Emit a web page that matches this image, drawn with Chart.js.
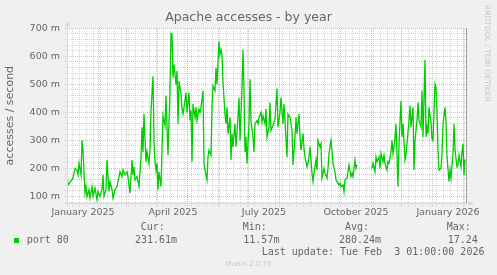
<!DOCTYPE html>
<html>
<head>
<meta charset="utf-8">
<script src="https://cdn.jsdelivr.net/npm/chart.js@4.4.1/dist/chart.umd.min.js"></script>
<style>
  html, body { margin: 0; padding: 0; background: #f0f0f0; }
  #wrap { position: relative; width: 497px; height: 275px; overflow: hidden; }
  #chart { position: absolute; left: 0; top: 0; }
  .lg { position: absolute; font-family: 'DejaVu Sans Mono', monospace; font-size: 10px;
        line-height: 12px; color: #666; white-space: pre; }
  .swatch { position: absolute; left: 14px; top: 238px; width: 5px; height: 5px; background: #00cc00; }
  .munin { position: absolute; left: 0; width: 497px; top: 259px; text-align: center;
           font-family: 'DejaVu Sans', sans-serif; font-size: 7px; line-height: 10px; color: #c8c8c8; }
</style>
</head>
<body>
<div id="wrap">
  <canvas id="chart" width="497" height="275"></canvas>
  <div class="lg" style="left:140.7px; top:221px">Cur:</div>
  <div class="lg" style="left:242.7px; top:221px">Min:</div>
  <div class="lg" style="left:345px;   top:221px">Avg:</div>
  <div class="lg" style="left:446.7px; top:221px">Max:</div>
  <div class="swatch"></div>
  <div class="lg" style="left:26.7px;  top:233.5px">port 80</div>
  <div class="lg" style="left:135px;   top:233.5px">231.61m</div>
  <div class="lg" style="left:243.3px; top:233.5px">11.57m</div>
  <div class="lg" style="left:339px;   top:233.5px">280.24m</div>
  <div class="lg" style="left:447.7px; top:233.5px">17.24</div>
  <div class="lg" style="left:261.7px; top:245.5px">Last update: Tue Feb  3 01:00:00 2026</div>
  <div class="munin">Munin 2.0.75</div>
</div>
<script>
// Jours depuis le 1er janvier 2025 (moyennes journalières, en milli-accès/s)
const days = [
  0, 1, 3, 6, 8, 10, 11, 12, 14, 15, 16, 18, 19, 20, 22, 23, 25, 26, 28, 30,
  31, 33, 35, 36, 37, 39, 40, 42, 43, 45, 46, 48, 50, 51, 53, 55, 56, 58, 60, 61,
  63, 65, 66, 67, 68, 70, 72, 74, 75, 76, 77, 79, 80, 82, 83, 84, 86, 87, 88, 89,
  90, 91, 92, 94, 95, 96, 98, 99, 100, 101, 103, 104, 105, 106, 107, 109, 110, 111, 112, 114,
  115, 116, 118, 119, 120, 122, 123, 124, 125, 126, 128, 129, 130, 132, 133, 134, 136, 137, 138, 140,
  141, 142, 144, 145, 146, 148, 149, 150, 152, 153, 154, 155, 156, 158, 159, 160, 161, 163, 164, 165,
  166, 168, 169, 170, 172, 173, 175, 176, 177, 178, 179, 180, 182, 183, 184, 186, 187, 188, 190, 191,
  192, 194, 195, 196, 198, 199, 200, 202, 203, 204, 206, 208, 210, 211, 213, 214, 216, 217, 218, 220,
  221, 223, 225, 226, 228, 229, 230, 232, 233, 234, 236, 237, 238, 240, 241, 242, 243, 245, 246, 247,
  249, 250, 251, 253, 254, 255, 257, 258, 260, 261, 262, 264, 265, 266, 268, 269, 270, 272, 273, 274,
  276, 277, 278, 280, 281, 282, 284, 285, 286, 288, 289, 290, 297, 305, 306, 308, 309, 310, 312, 313,
  314, 316, 317, 318, 320, 321, 322, 324, 325, 326, 328, 329, 330, 331, 332, 334, 335, 336, 338, 339,
  340, 342, 343, 344, 346, 347, 348, 350, 351, 352, 354, 355, 356, 358, 359, 360, 361, 362, 364, 365,
  366, 368, 369, 370, 371, 372, 374, 375, 376, 378, 379, 380, 382, 383, 384, 386, 387, 388, 390, 391,
  392, 394, 395, 396, 397, 398
];
const accesses = [
  190, 141, 150, 165, 200, 194, 177, 218, 177, 300, 265, 112, 135, 100, 124, 94, 135, 100, 130, 88,
  118, 100, 124, 177, 100, 124, 230, 118, 153, 124, 94, 124, 135, 153, 188, 171, 194, 177, 188, 171,
  112, 230, 177, 206, 159, 171, 135, 241, 347, 259, 394, 224, 259, 218, 265, 406, 529, 300, 224, 194,
  218, 124, 188, 135, 265, 388, 353, 459, 347, 247, 477, 682, 679, 524, 571, 500, 547, 359, 512, 465,
  412, 394, 441, 471, 400, 471, 371, 406, 224, 430, 382, 418, 371, 412, 400, 418, 477, 218, 194, 159,
  241, 265, 247, 418, 494, 477, 559, 500, 653, 606, 624, 606, 506, 394, 359, 418, 324, 382, 230, 324,
  277, 359, 277, 324, 453, 300, 488, 624, 477, 259, 312, 218, 359, 518, 371, 312, 259, 359, 371, 359,
  382, 400, 365, 388, 359, 412, 312, 347, 435, 335, 353, 376, 485, 347, 400, 453, 359, 430, 371, 241,
  394, 382, 335, 212, 312, 382, 324, 394, 312, 265, 324, 271, 241, 206, 218, 241, 277, 183, 153, 183,
  230, 194, 300, 277, 288, 165, 200, 183, 165, 200, 253, 300, 265, 218, 188, 159, 153, 141, 147, 135,
  141, 118, 159, 165, 188, 212, 171, 183, 171, 230, 200, 212, null, 200, 218, 188, 241, 224, 241, 200,
  253, 224, 247, 218, 194, 224, 218, 259, 300, 253, 306, 359, 241, 135, 288, 441, 312, 359, 230, 247,
  288, 371, 424, 347, 418, 194, 300, 371, 435, 371, 347, 477, 312, 588, 312, 347, 324, 418, 365, 306,
  300, 500, 488, 406, 265, 194, 200, 253, 359, 418, 371, 241, 153, 194, 165, 253, 359, 265, 206, 212,
  247, 206, 259, 288, 177, 232
];

// Axe des temps : mois affichés (tous les 3 mois) et début de chaque mois
const labelMonths = [[2025, 0, 'January 2025'], [2025, 3, 'April 2025'], [2025, 6, 'July 2025'],
                     [2025, 9, 'October 2025'], [2026, 0, 'January 2026']];
const gridMonths = [[2025, 0], [2025, 1], [2025, 2], [2025, 3], [2025, 4], [2025, 5], [2025, 6],
                    [2025, 7], [2025, 8], [2025, 9], [2025, 10], [2025, 11], [2026, 0], [2026, 1]];
const yMajor = [100, 200, 300, 400, 500, 600, 700];
const yMinorStep = 20;
const yMin = 76.5, yMax = 700, xMin = 0, xMax = 399;

const DAY0 = Date.UTC(2025, 0, 1);
const dayOf = (y, m, d) => Math.round((Date.UTC(y, m, d || 1) - DAY0) / 864e5);

const monthDays = gridMonths.map(([y, m]) => dayOf(y, m));
const monthSet = new Set(monthDays);
// Lignes hebdomadaires (lundi), sauf si elles tombent sur un début de mois
const weekDays = [];
for (let d = dayOf(2025, 0, 6); d <= xMax; d += 7) if (!monthSet.has(d)) weekDays.push(d);
const labelMap = {};
labelMonths.forEach(([y, m, txt]) => { labelMap[dayOf(y, m) + 16] = txt; });
const labelDays = Object.keys(labelMap).map(Number);

const yTicks = [];
for (let v = 80; v <= yMax; v += yMinorStep) yTicks.push(v);

const MGRID = 'rgba(222, 79, 79, 0.45)';
const GRID = 'rgba(143, 143, 143, 0.38)';
const AXIS = '#cfd6f8';
const FONT = '#666666';

// Grille pointillée façon rrdtool (1 px sur 2)
const dottedGrid = {
    id: 'dottedGrid',
    beforeDatasetsDraw(chart) {
        const { ctx, chartArea: a, scales: { x, y } } = chart;
        const l = Math.round(a.left), r = Math.round(a.right);
        const t = Math.round(a.top), b = Math.round(a.bottom);
        ctx.save();
        const hline = (v, col) => {
            const py = Math.round(y.getPixelForValue(v) - 0.5);
            if (py < t - 1 || py > b) return;
            ctx.fillStyle = col;
            for (let px = l - 2; px < r; px += 2) ctx.fillRect(px, py, 1, 1);
        };
        const vline = (d, col) => {
            const px = Math.round(x.getPixelForValue(d) - 0.5);
            if (px < l || px > r) return;
            ctx.fillStyle = col;
            for (let py = b + 2; py >= t; py -= 2) ctx.fillRect(px, py, 1, 1);
        };
        yTicks.filter(v => !yMajor.includes(v)).forEach(v => hline(v, GRID));
        weekDays.forEach(d => vline(d, GRID));
        yMajor.forEach(v => hline(v, MGRID));
        monthDays.forEach(d => vline(d, MGRID));
        ctx.restore();
    }
};

// Fond blanc, axes avec flèches, filigrane rrdtool
const muninDeco = {
    id: 'muninDeco',
    beforeDraw(chart) {
        const { ctx, chartArea: a } = chart;
        ctx.save();
        ctx.fillStyle = '#ffffff';
        ctx.fillRect(a.left, a.top, a.right - a.left, a.bottom - a.top);
        ctx.restore();
    },
    afterDraw(chart) {
        const { ctx, chartArea: a } = chart;
        const bx = Math.round(a.left) + 0.5, by = Math.round(a.bottom) + 0.5;
        ctx.save();
        // bord droit
        ctx.strokeStyle = '#9e9e9e';
        ctx.lineWidth = 1;
        ctx.beginPath();
        ctx.moveTo(Math.round(a.right) + 0.5, a.top);
        ctx.lineTo(Math.round(a.right) + 0.5, a.bottom);
        ctx.stroke();
        // axes
        ctx.strokeStyle = AXIS;
        ctx.fillStyle = AXIS;
        ctx.beginPath();
        ctx.moveTo(bx, by + 2);
        ctx.lineTo(bx, a.top - 3);
        ctx.moveTo(bx - 2, by);
        ctx.lineTo(a.right + 3, by);
        ctx.stroke();
        ctx.beginPath();
        ctx.moveTo(bx, a.top - 7.5);
        ctx.lineTo(bx - 2.5, a.top - 2);
        ctx.lineTo(bx + 2.5, a.top - 2);
        ctx.closePath();
        ctx.fill();
        ctx.beginPath();
        ctx.moveTo(a.right + 8, by);
        ctx.lineTo(a.right + 2.5, by - 2.5);
        ctx.lineTo(a.right + 2.5, by + 2.5);
        ctx.closePath();
        ctx.fill();
        // filigrane
        ctx.translate(486.5, 5);
        ctx.rotate(Math.PI / 2);
        ctx.font = '7.5px "DejaVu Sans"';
        ctx.fillStyle = '#c8c8c8';
        ctx.textAlign = 'left';
        ctx.textBaseline = 'middle';
        ctx.fillText('RRDTOOL / TOBI OETIKER', 0, 0);
        ctx.restore();
    }
};

const tickFont = { family: 'DejaVu Sans', size: 9.5 };

new Chart(document.getElementById('chart').getContext('2d'), {
    type: 'line',
    data: {
        datasets: [{
            label: 'port 80',
            data: days.map((d, i) => ({ x: d, y: accesses[i] })),
            borderColor: '#00cc00',
            borderWidth: 1.3,
            pointRadius: 0,
            tension: 0,
            fill: false,
            spanGaps: false
        }]
    },
    options: {
        responsive: false,
        animation: false,
        layout: { padding: 0 },
        plugins: {
            legend: { display: false },
            tooltip: { enabled: false },
            title: {
                display: true,
                text: 'Apache accesses - by year',
                color: FONT,
                font: { family: 'DejaVu Sans', size: 12.5, weight: 'normal' },
                padding: { top: 10, bottom: 3.3 }
            }
        },
        scales: {
            x: {
                type: 'linear',
                min: xMin,
                max: xMax,
                afterBuildTicks: s => { s.ticks = labelDays.map(v => ({ value: v })); },
                afterFit: s => { s.height = 72; },
                ticks: {
                    autoSkip: false, maxRotation: 0, minRotation: 0, padding: 4,
                    color: FONT, font: tickFont,
                    callback: v => labelMap[v] || ''
                },
                grid: { display: false, drawTicks: false, tickLength: 0 },
                border: { display: false }
            },
            y: {
                min: yMin,
                max: yMax,
                afterBuildTicks: s => { s.ticks = yMajor.map(v => ({ value: v })); },
                afterFit: s => { s.width = 67; },
                ticks: {
                    autoSkip: false, padding: 7, color: FONT, font: tickFont,
                    callback: v => v + ' m'
                },
                grid: { display: false, drawTicks: false, tickLength: 0 },
                border: { display: false },
                title: {
                    display: true,
                    text: 'accesses / second',
                    color: FONT,
                    font: { family: 'DejaVu Sans', size: 11 },
                    padding: { top: 4, bottom: 0 }
                }
            },
            y2: {
                position: 'right',
                display: true,
                min: 0,
                max: 1,
                afterFit: s => { s.width = 31; },
                ticks: { display: false },
                grid: { display: false, drawTicks: false },
                border: { display: false }
            }
        }
    },
    plugins: [dottedGrid, muninDeco]
});
</script>
</body>
</html>
